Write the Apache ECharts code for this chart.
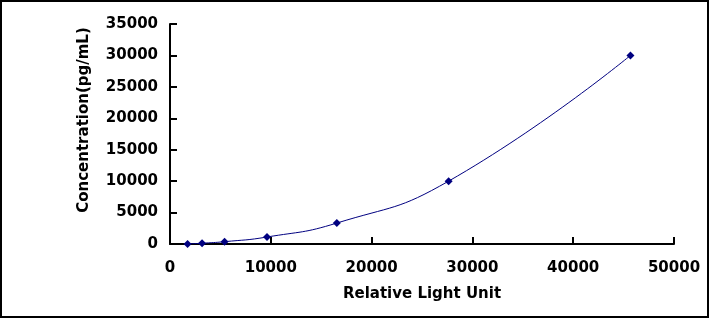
<!DOCTYPE html>
<html>
<head>
<meta charset="utf-8">
<script src="https://cdn.jsdelivr.net/npm/echarts@6/dist/echarts.min.js"></script>
<style>
  html, body { margin: 0; padding: 0; background: #fff; }
  #grafico { width: 709px; height: 319px; }
</style>
</head>
<body>
<div id="grafico"></div>
<script>
/* standard curve points */
var rlu = [1740, 3180, 5410, 9620, 16550, 27640, 45680];
var conc = [0, 123, 370, 1111, 3333, 10000, 30000];

var xTitle = 'Relative Light Unit';
var yTitle = 'Concentration(pg/mL)';

var fonte = 'DejaVu Sans';
var data = [];
for (var i = 0; i < rlu.length; i++) {
    data.push([rlu[i], conc[i]]);
}

// plain numbers, no thousands separator
function semVirgula(v) {
    return String(v);
}

var dom = document.getElementById('grafico');
var myChart = echarts.init(dom, null, { renderer: 'canvas' });

var option = {
    animation: false,
    backgroundColor: '#fff',
    grid: { left: 170, right: 35, top: 24, bottom: 75 },
    xAxis: {
        type: 'value',
        min: 0,
        max: 50000,
        interval: 10000,
        name: xTitle,
        nameLocation: 'middle',
        nameGap: 43,
        nameTextStyle: { fontFamily: fonte, fontWeight: 'bold', fontSize: 15, color: '#000' },
        axisLine: { show: true, lineStyle: { color: '#000', width: 2 } },
        axisTick: { show: true, inside: true, length: 7, lineStyle: { color: '#000', width: 2 } },
        axisLabel: { margin: 17, formatter: semVirgula, fontFamily: fonte, fontWeight: 'bold', fontSize: 15, color: '#000' },
        splitLine: { show: false }
    },
    yAxis: {
        type: 'value',
        min: 0,
        max: 35000,
        interval: 5000,
        name: yTitle,
        nameLocation: 'middle',
        nameGap: 78,
        nameTextStyle: { fontFamily: fonte, fontWeight: 'bold', fontSize: 15, color: '#000', padding: [0, 0, 0, 28] },
        axisLine: { show: true, lineStyle: { color: '#000', width: 2 } },
        axisTick: { show: true, inside: true, length: 7, lineStyle: { color: '#000', width: 2 } },
        axisLabel: { margin: 12, formatter: semVirgula, fontFamily: fonte, fontWeight: 'bold', fontSize: 15, color: '#000' },
        splitLine: { show: false }
    },
    graphic: [{
        type: 'rect',
        shape: { x: 1, y: 1, width: 707, height: 316 },
        style: { fill: 'none', stroke: '#000', lineWidth: 2 },
        silent: true
    }],
    series: [{
        type: 'line',
        data: data,
        smooth: 0.5,
        symbol: 'diamond',
        symbolSize: 8,
        showSymbol: true,
        lineStyle: { color: '#000080', width: 1 },
        itemStyle: { color: '#000080' }
    }]
};

myChart.setOption(option, true);
</script>
</body>
</html>
